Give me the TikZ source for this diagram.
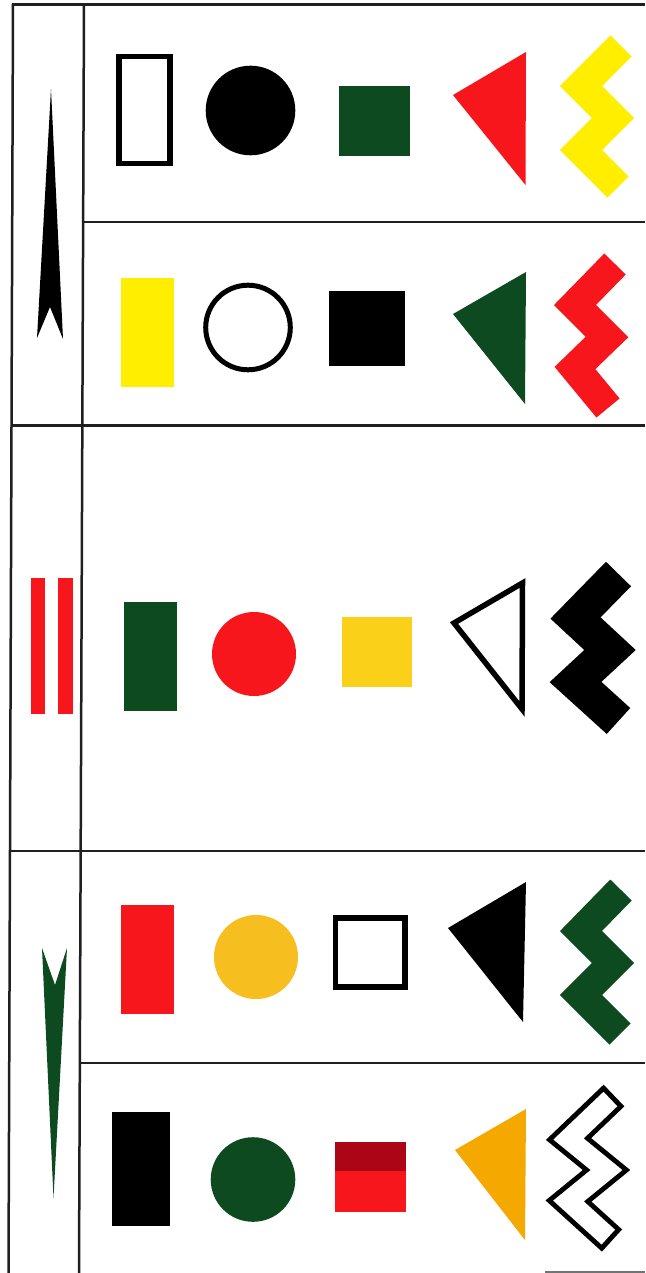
\documentclass[tikz,border=0pt]{standalone}
\usetikzlibrary{calc}
\definecolor{myred}{RGB}{246,22,28}
\definecolor{mygreen}{RGB}{14,74,32}
\definecolor{myyellow}{RGB}{255,238,0}
\definecolor{mygold}{RGB}{250,208,25}
\definecolor{myamber}{RGB}{246,190,30}
\definecolor{myorange}{RGB}{245,168,0}
\definecolor{mydarkred}{RGB}{172,6,22}
\begin{document}
\begin{tikzpicture}[x=1pt,y=-1pt,
  gridline/.style={line width=2.5pt, draw=black!88},
  outl/.style={draw=black, line width=5.5pt, line join=miter},
  zz/.style={line join=miter, line cap=butt, miter limit=10}]
\fill[white] (0,0) rectangle (645,1273);
\useasboundingbox (0,0) rectangle (645,1273);

% ---- grid ----
\draw[gridline] (13,4) -- (8.5,1273);
\draw[gridline] (84,4) -- (79,1273);
\draw[gridline] (12,4.5) -- (645,4.5);
\draw[gridline] (83,222) -- (645,222);
\draw[gridline] (11.5,425.5) -- (645,425.5);
\draw[gridline] (10,851) -- (645,851);
\draw[gridline] (80,1063) -- (645,1063);
\draw[line width=2pt, black!55] (545,1272) -- (645,1272);

% ---- left column symbols ----
\fill[black] (51,89) -- (63,339) -- (50,307) -- (37,338) -- cycle;
\fill[myred] (31,578) rectangle (45,714);
\fill[myred] (57.5,578) rectangle (72.5,714);
\fill[mygreen] (42,948) -- (55,985) -- (67,948) -- (53.5,1198) -- cycle;

% ---- row 1 ----
\draw[outl] (119,56.3) rectangle (170,163.7);
\fill[black] (250.5,110.5) circle[radius=44.8];
\fill[mygreen] (339,86) rectangle (410,156);
\fill[myred] (453,95) -- (526,52) -- (525.5,185) -- cycle;
\begin{scope}[shift={(597,118)}]
  \draw[zz, myyellow, line width=30pt] (24,-72) -- (-16,-32) -- (16,0) -- (-16,32) -- (21,69);
\end{scope}

% ---- row 2 ----
\fill[myyellow] (121,278) rectangle (174,387);
\draw[black, line width=5pt] (248,327.5) circle[radius=42.3];
\fill[black] (329,291) rectangle (405,366);
\fill[mygreen] (453,314) -- (526,272) -- (525,404) -- cycle;
\begin{scope}[shift={(591,337)}]
  \draw[zz, myred, line width=30pt] (24,-73) -- (-16,-32) -- (16,0) -- (-16,31) -- (17,71);
\end{scope}

% ---- row 3 ----
\fill[mygreen] (124,602) rectangle (177,711);
\fill[myred] (254,654) circle[radius=42];
\fill[mygold] (341.5,617) rectangle (412,687);
\draw[outl] (454,623) -- (522.5,583) -- (522,709) -- cycle;
\begin{scope}[shift={(593,650)}]
  \draw[zz, black, line width=35pt] (25.5,-76) -- (-17.5,-32) -- (17,0) -- (-17.5,32) -- (25.5,71);
\end{scope}

% ---- row 4 ----
\fill[myred] (121,905) rectangle (174,1014);
\fill[myamber] (256,957) circle[radius=42];
\draw[outl] (335.5,918) rectangle (405,987);
\fill[black] (448,928) -- (526,882) -- (523,1022) -- cycle;
\begin{scope}[shift={(597,963)}]
  \draw[zz, mygreen, line width=30pt] (24,-73) -- (-16,-32) -- (16,0) -- (-16,32) -- (23,71);
\end{scope}

% ---- row 5 ----
\fill[black] (112,1112) rectangle (169.5,1225.5);
\fill[mygreen] (253,1179.5) circle[radius=42.3];
\fill[myred] (335,1142) rectangle (406,1212);
\fill[mydarkred] (335,1142) rectangle (406,1171);
\fill[myorange] (455,1150) -- (526,1109) -- (525,1240) -- cycle;
\begin{scope}[shift={(587.5,1170)}]
  \draw[zz, black, line width=30pt] (26.5,-74.5) -- (-19,-31) -- (19,0) -- (-19,31) -- (24.5,70.5);
  \draw[zz, white, line width=20pt] (22.9,-71) -- (-19,-31) -- (19,0) -- (-19,31) -- (20.8,67.1);
\end{scope}
\end{tikzpicture}
\end{document}
